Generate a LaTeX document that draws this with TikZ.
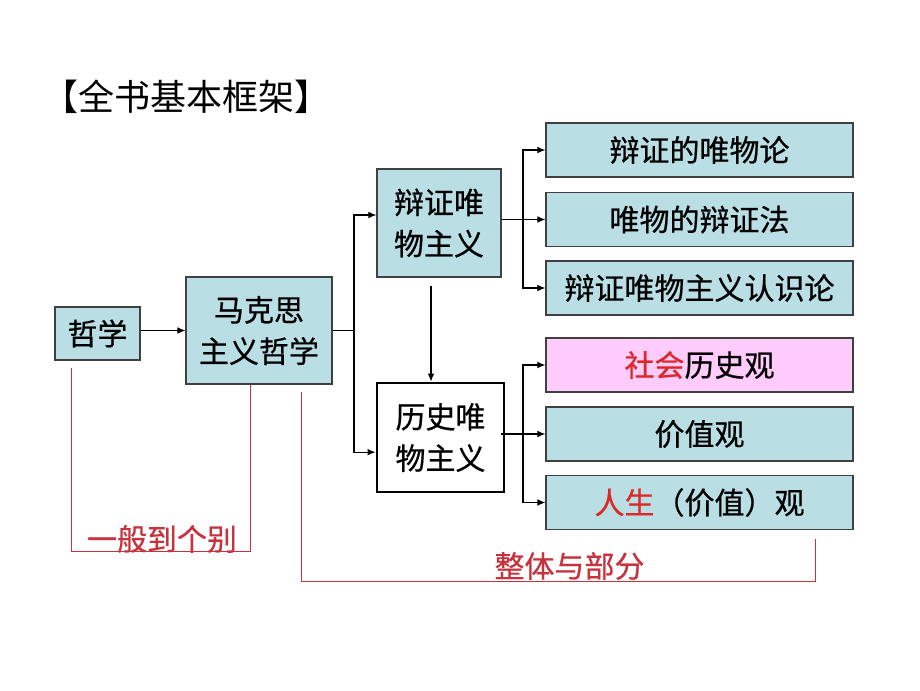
\documentclass[tikz,border=0pt]{standalone}
\usepackage{fontspec}
\setmainfont{Noto Sans CJK SC}[FakeBold=0.6]
\newfontfamily\titlefont{Noto Sans CJK SC}
\usetikzlibrary{arrows.meta}
\definecolor{boxfill}{RGB}{185,223,228}
\definecolor{pinkfill}{RGB}{255,204,252}
\definecolor{linered}{RGB}{200,50,60}
\definecolor{textred}{RGB}{222,40,40}
\tikzset{
    boxnode/.style={
        rectangle,
        draw=black!75, % 边框深灰
        fill=boxfill, % 浅蓝绿填充
        line width=0.9pt,
        inner sep=0,
        align=center,
        font=\fontsize{22.5pt}{31pt}\selectfont
    },
    pinknode/.style={
        boxnode,
        fill=pinkfill
    },
    whitenode/.style={
        boxnode,
        fill=white,
        draw=black,
        line width=2.2pt % 边框加粗
    },
    widebox/.style={
        minimum width=230.25pt,
        minimum height=40.5pt
    },
    redtext/.style={
        text=linered,
        inner sep=0,
        font=\fontsize{22.5pt}{26pt}\selectfont
    },
    arrowline/.style={
        draw=black,
        line width=0.8pt,
        -{Latex[length=6pt,width=5pt]}
    },
    plainline/.style={
        draw=black,
        line width=0.8pt
    },
    bracketline/.style={
        draw=linered,
        line width=0.7pt
    }
}

\begin{document}
\begin{tikzpicture}[x=0.75pt,y=-0.75pt]
    \useasboundingbox (0,0) rectangle (920,690);
    % 标题
    \node[anchor=west, inner sep=0, font=\titlefont\fontsize{27pt}{30pt}\selectfont] (title) at (42,97) {【全书基本框架】};

    % 左侧
    \node[boxnode, minimum width=63.75pt, minimum height=39.75pt] (zx) at (97.5,333.5) {哲学};
    \node[boxnode, minimum width=109.5pt, minimum height=80.25pt] (mk) at (259,330.5) {马克思\\主义哲学};

    % 中间
    \node[boxnode, minimum width=93pt, minimum height=81pt] (bz) at (439,223) {辩证唯\\物主义};
    \node[whitenode, minimum width=95.25pt, minimum height=81.75pt] (ls) at (440.5,437.5) {历史唯\\物主义};

    % 右侧
    \node[boxnode, widebox] (b1) at (699.5,150) {辩证的唯物论};
    \node[boxnode, widebox] (b2) at (699.5,219.5) {唯物的辩证法};
    \node[boxnode, widebox] (b3) at (699.5,288) {辩证唯物主义认识论};
    \node[pinknode, widebox] (b4) at (699.5,365) {\textcolor{textred}{社会}历史观};
    \node[boxnode, widebox] (b5) at (699.5,434) {价值观};
    \node[boxnode, widebox] (b6) at (699.5,502.5) {\textcolor{textred}{人生}（价值）观};

    % 连线
    \draw[arrowline] (zx.east |- mk.west) -- (mk.west);
    \coordinate (j1) at (354,330.5);
    \draw[plainline] (mk.east) -- (j1);
    \draw[arrowline] (j1) |- ([yshift=6pt]bz.west);
    \draw[arrowline] (j1) |- ([yshift=-11pt]ls.west);

    \coordinate (j2) at (523,219.5);
    \draw[plainline] (bz.east |- j2) -- (j2);
    \draw[arrowline] (j2) |- (b1.west);
    \draw[arrowline] (j2) -- (b2.west);
    \draw[arrowline] (j2) |- (b3.west);

    \draw[arrowline, shorten <=6pt] ([xshift=-6pt]bz.south) -- ([xshift=-6pt]bz.south |- ls.north);

    \coordinate (j3) at (523,434);
    \draw[plainline] ([xshift=-3pt]ls.east |- j3) -- (j3);
    \draw[arrowline] (j3) |- (b4.west);
    \draw[arrowline] (j3) -- (b5.west);
    \draw[arrowline] (j3) |- (b6.west);

    % 红色括线
    \coordinate (p1) at (71,368);
    \coordinate (p2) at (71,551);
    \coordinate (p3) at (250,551);
    \coordinate (p4) at (250,385);
    \draw[bracketline] (p1) -- (p2) -- (p3) -- (p4);
    \node[redtext] (ybgb) at (162,539) {一般到个别};

    \coordinate (q1) at (301,392);
    \coordinate (q2) at (301,581);
    \coordinate (q3) at (815,581);
    \coordinate (q4) at (815,539);
    \draw[bracketline] (q1) -- (q2) -- (q3) -- (q4);
    \node[redtext] (ztbf) at (569.5,566) {整体与部分};
\end{tikzpicture}
\end{document}
